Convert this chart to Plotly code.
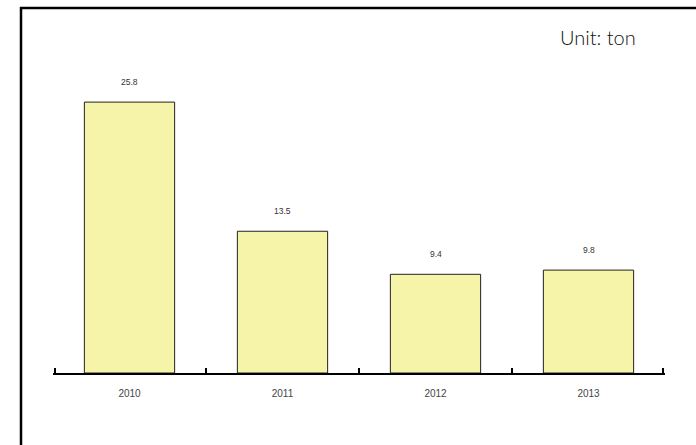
import plotly.graph_objects as go

years = ["2010", "2011", "2012", "2013"]
values = [25.8, 13.5, 9.4, 9.8]
unit_label = "Unit: ton"

W, H = 696, 445
L, R, T, B = 53, 31, 40, 72
pw = W - L - R
ph = H - T - B

fig = go.Figure()
fig.add_trace(go.Bar(
    x=years, y=values,
    marker=dict(color="#F6F4A8", line=dict(color="#222222", width=1)),
    hoverinfo="skip",
))
# invisible trace to activate boundary-tick axis
fig.add_trace(go.Scatter(x=[0], y=[0], xaxis="x2", mode="markers",
                         marker=dict(opacity=0), hoverinfo="skip", showlegend=False))

for i, v in enumerate(values):
    fig.add_annotation(x=i, y=v, xref="x", yref="y", text=f"{v}", showarrow=False, yshift=20,
                       font=dict(family="Liberation Sans, Arial", size=8.5, color="#333333"))

fig.add_annotation(xref="paper", yref="paper", x=(638 - L) / pw, y=(H - B - 37) / ph,
                   xanchor="right", yanchor="middle", text=unit_label, showarrow=False,
                   font=dict(family="Lato", size=20, color="#111111", weight=300))

def px_x(p):
    return (p - L) / pw

def px_y(p):
    return (H - B - p) / ph

fig.add_shape(type="line", xref="paper", yref="paper", x0=px_x(20), x1=px_x(700),
              y0=px_y(8), y1=px_y(8), line=dict(color="black", width=2.5))
fig.add_shape(type="line", xref="paper", yref="paper", x0=px_x(21), x1=px_x(21),
              y0=px_y(7), y1=px_y(450), line=dict(color="black", width=2.5))

fig.update_layout(
    width=W, height=H,
    margin=dict(l=L, r=R, t=T, b=B),
    paper_bgcolor="white", plot_bgcolor="white",
    bargap=0.41, showlegend=False,
    xaxis=dict(type="category", range=[-0.5, 3.5], showline=True, linecolor="black",
               linewidth=2, ticks="", showgrid=False, zeroline=False,
               tickfont=dict(family="Liberation Sans, Arial", size=10, color="#444444"),
               ticklabelstandoff=10),
    xaxis2=dict(overlaying="x", side="bottom", range=[-0.5, 3.5],
                tickvals=[-0.487, 0.5, 1.5, 2.5, 3.487], showticklabels=False,
                ticks="inside", ticklen=5, tickwidth=1.5, tickcolor="black",
                showline=False, showgrid=False, zeroline=False),
    yaxis=dict(range=[0, ph / 10.5], showticklabels=False, showline=False,
               ticks="", showgrid=False, zeroline=False),
)

fig.write_html("out.html")
